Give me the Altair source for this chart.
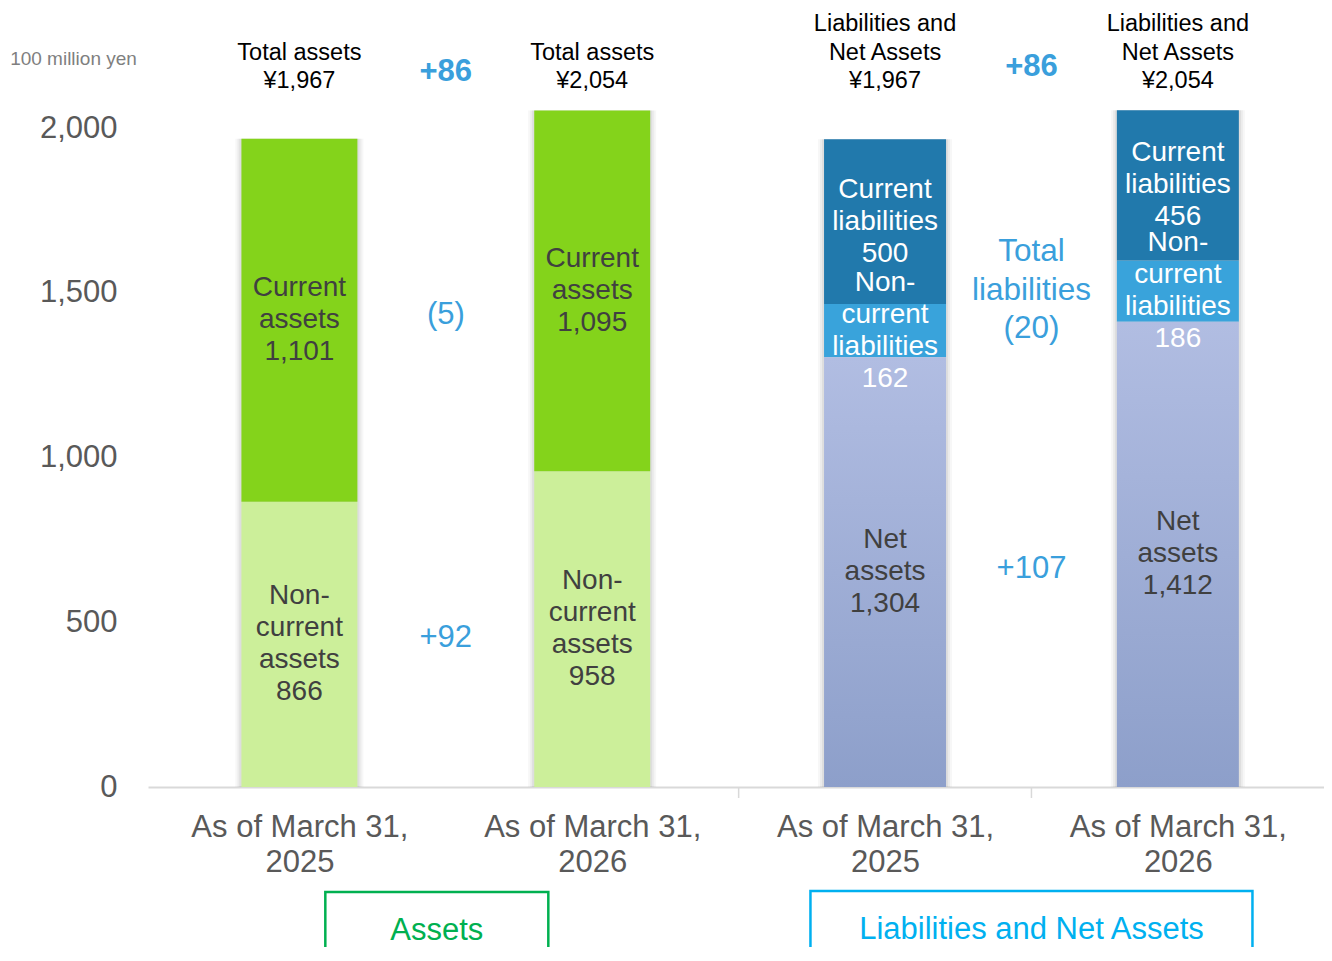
import altair as alt
import pandas as pd

# ---------------- data ----------------
x_label_lines = [["As of March 31,", "2025"], ["As of March 31,", "2026"],
                 ["As of March 31,", "2025"], ["As of March 31,", "2026"]]
bar_group = ["Assets", "Assets", "Liabilities and Net Assets", "Liabilities and Net Assets"]

noncurrent_assets = [866, 958]
current_assets = [1101, 1095]
net_assets = [1304, 1412]
noncurrent_liabilities = [162, 186]
current_liabilities = [500, 456]

total_titles = ["Total assets\n¥1,967", "Total assets\n¥2,054",
                "Liabilities and\nNet Assets\n¥1,967", "Liabilities and\nNet Assets\n¥2,054"]

total_change = ["+86", "+86"]
current_assets_change = "(5)"
noncurrent_assets_change = "+92"
total_liabilities_change = "Total\nliabilities\n(20)"
net_assets_change = "+107"

group_names = ["Assets", "Liabilities and Net Assets"]

# ---------------- tables ----------------
seg_rows = []


def stack(i, parts):
    base = 0
    for key, name, val in parts:
        lab = f"{name}\n{val:,}"
        seg_rows.append(dict(bar=i, pos=i + 0.5, seg=key, y0=base, y1=base + val,
                             mid=base + val / 2, label=lab, n=lab.count("\n") + 1))
        base += val


for j in range(2):
    stack(j, [("nca", "Non-\ncurrent\nassets", noncurrent_assets[j]),
              ("ca", "Current\nassets", current_assets[j])])
for j in range(2):
    stack(j + 2, [("net", "Net\nassets", net_assets[j]),
                  ("ncl", "Non-\ncurrent\nliabilities", noncurrent_liabilities[j]),
                  ("cl", "Current\nliabilities", current_liabilities[j])])
seg = pd.DataFrame(seg_rows)

tot = seg.groupby(["bar", "pos"], as_index=False)["y1"].max().rename(columns={"y1": "total"})
tot["title"] = total_titles
tot["n"] = [t.count("\n") + 1 for t in total_titles]
tot["zero"] = 0


def mid_of(keys, bars):
    s = seg[seg.seg.isin(keys) & seg.bar.isin(bars)]
    g = s.groupby("bar").agg(lo=("y0", "min"), hi=("y1", "max"))
    return float(((g.lo + g.hi) / 2).mean())


ann = pd.DataFrame([
    dict(kind="top_a", pos=1.0, anchor=0, text=total_change[0]),
    dict(kind="top_l", pos=3.0, anchor=0, text=total_change[1]),
    dict(kind="ca", pos=1.0, anchor=mid_of(["ca"], [0, 1]), text=current_assets_change),
    dict(kind="nca", pos=1.0, anchor=mid_of(["nca"], [0, 1]), text=noncurrent_assets_change),
    dict(kind="liab", pos=3.0, anchor=mid_of(["ncl", "cl"], [2, 3]), text=total_liabilities_change),
    dict(kind="net", pos=3.0, anchor=mid_of(["net"], [2, 3]), text=net_assets_change),
])

groups = pd.DataFrame(dict(name=group_names, pos=[1.0, 3.0]))
bounds = pd.DataFrame(dict(pos=[2.0, 3.0]))

# ---------------- scales ----------------
xs = alt.Scale(domain=[0, 3.982], nice=False, zero=False)
ys = alt.Scale(domain=[0, 2000], nice=False)

label_expr = " : ".join(
    f"datum.value < {i + 1} ? {x_label_lines[i]!r}" for i in range(3)
) + f" : {x_label_lines[3]!r}"

x_axis = alt.Axis(
    values=[0.5, 1.5, 2.5, 3.5], labelExpr=label_expr, ticks=False, grid=False,
    domainColor="#D9D9D9", domainWidth=2, labelFontSize=31, labelColor="#595959",
    labelPadding=25, labelLineHeight=35, labelBaseline="top", labelLimit=0,
    labelOverlap=False, title=None)
X = alt.X("pos:Q", scale=xs, axis=x_axis)

y_axis = alt.Axis(values=[0, 500, 1000, 1500, 2000], format=",.0f", ticks=False, domain=False,
                  grid=False, labelFontSize=31, labelColor="#595959", labelPadding=31,
                  title="100 million yen", titleAngle=0, titleX=-75, titleY=-70,
                  titleAlign="center", titleBaseline="middle", titleFontSize=19,
                  titleColor="#7F7F7F", titleFontWeight="normal")


def Y(field):
    return alt.Y(field, scale=ys, axis=y_axis)


base = alt.Chart(seg)

seg_colors = alt.Scale(domain=["nca", "ca", "ncl", "cl", "net"],
                       range=["#CCEF9A", "#84D31B", "#39A3DB", "#2179AC", "#A0AED8"])
txt_colors = alt.Scale(domain=["nca", "ca", "ncl", "cl", "net"],
                       range=["#404040", "#404040", "#FFFFFF", "#FFFFFF", "#404040"])

# shadows
shadows = []
for w_a, w_l, op in [(128, 134, 0.05), (124, 130, 0.07), (120, 126, 0.10)]:
    for cond, w in [("datum.bar < 2", w_a), ("datum.bar >= 2", w_l)]:
        shadows.append(alt.Chart(tot).transform_filter(cond).mark_bar(
            size=w, color="#606060", opacity=op).encode(
            x=X, y=Y("zero:Q"), y2="total:Q"))

bars_a = base.transform_filter("datum.bar < 2").mark_bar(size=116).encode(
    x=X, y=Y("y0:Q"), y2="y1:Q",
    color=alt.Color("seg:N", scale=seg_colors, legend=None))
bars_l = base.transform_filter("datum.bar >= 2 && datum.seg != 'net'").mark_bar(size=122).encode(
    x=X, y=Y("y0:Q"), y2="y1:Q",
    color=alt.Color("seg:N", scale=seg_colors, legend=None))
grad = alt.LinearGradient(gradient="linear", x1=0, x2=0, y1=0, y2=1, stops=[
    alt.GradientStop(color="#B1BDE2", offset=0), alt.GradientStop(color="#8D9FCA", offset=1)])
bars_net = base.transform_filter("datum.seg == 'net'").mark_bar(size=122, color=grad).encode(
    x=X, y=Y("y0:Q"), y2="y1:Q")

SEG_LH = 32
seg_texts = []
for n in sorted(seg.n.unique()):
    seg_texts.append(base.transform_filter(f"datum.n == {n}").mark_text(
        lineBreak="\n", fontSize=28, lineHeight=SEG_LH, baseline="middle",
        dy=-(n - 1) * SEG_LH / 2).encode(
        x=X, y=Y("mid:Q"), text="label:N",
        color=alt.Color("seg:N", scale=txt_colors, legend=None)))

TOP_LH = 28.5
top_texts = []
for n in sorted(tot.n.unique()):
    top_texts.append(alt.Chart(tot).transform_filter(f"datum.n == {n}").mark_text(
        lineBreak="\n", fontSize=23.5, lineHeight=TOP_LH, baseline="middle",
        color="#000000", dy=-(n - 1) * TOP_LH).encode(
        x=X, y=alt.value(-47), text="title:N"))

BLUE = "#3A9FDC"


def ann_layer(kind, dy=0, size=31, bold=False, ypix=None, lh=None):
    kw = dict(fontSize=size, color=BLUE, baseline="middle", dy=dy, lineBreak="\n")
    if bold:
        kw["fontWeight"] = "bold"
    if lh:
        kw["lineHeight"] = lh
    enc = dict(x=X, text="text:N")
    enc["y"] = alt.value(ypix) if ypix is not None else Y("anchor:Q")
    return alt.Chart(ann).transform_filter(f"datum.kind == '{kind}'").mark_text(**kw).encode(**enc)


anns = [
    ann_layer("top_a", size=31, bold=True, ypix=-56),
    ann_layer("top_l", size=31, bold=True, ypix=-61),
    ann_layer("ca", dy=9),
    ann_layer("nca", dy=1),
    ann_layer("liab", dy=20, size=31.5, lh=38.5),
    ann_layer("net", dy=6),
]

ticks = alt.Chart(bounds).mark_rule(color="#D9D9D9", strokeWidth=1.5).encode(
    x=X, y=alt.value(660), y2=alt.value(670))

box_a = alt.Chart(groups).transform_filter("datum.name == 'Assets'").mark_bar(
    size=223, fillOpacity=0, stroke="#00B050", strokeWidth=2.5, xOffset=-9).encode(
    x=X, y=alt.value(764), y2=alt.value(900))
box_l = alt.Chart(groups).transform_filter("datum.name != 'Assets'").mark_bar(
    size=442, fillOpacity=0, stroke="#00B0F0", strokeWidth=2.5).encode(
    x=X, y=alt.value(763), y2=alt.value(900))
box_text_a = alt.Chart(groups).transform_filter("datum.name == 'Assets'").mark_text(
    fontSize=31, baseline="middle", color="#00B050", dx=-9).encode(
    x=X, y=alt.value(803), text="name:N")
box_text_l = alt.Chart(groups).transform_filter("datum.name != 'Assets'").mark_text(
    fontSize=31, baseline="middle", color="#00B0F0").encode(
    x=X, y=alt.value(802), text="name:N")

chart = alt.layer(*shadows, bars_a, bars_l, bars_net, *seg_texts, *top_texts, *anns, ticks,
                  box_a, box_l, box_text_a, box_text_l).resolve_scale(color="independent").properties(
    width=1176, height=659,
    autosize=alt.AutoSizeParams(type="none"),
    padding={"left": 140, "top": 120, "right": 0, "bottom": 160},
).configure(font="Liberation Sans").configure_view(stroke=None)

chart.save("out.html", embed_options={"renderer": "svg", "actions": False})
